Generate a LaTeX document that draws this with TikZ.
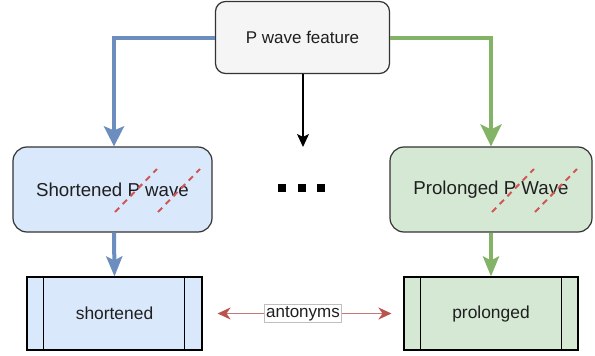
\documentclass[tikz,border=0pt]{standalone}
\usepackage{fontspec}
\setmainfont{Liberation Sans}
\usetikzlibrary{arrows.meta,calc}
\definecolor{blueFill}{HTML}{DAE8FC}
\definecolor{blueLine}{HTML}{6C8EBF}
\definecolor{greenFill}{HTML}{D5E8D4}
\definecolor{greenLine}{HTML}{82B366}
\definecolor{grayFill}{HTML}{F5F5F5}
\definecolor{nodeBorder}{HTML}{333333}
\definecolor{redLine}{HTML}{B85450}
\definecolor{strikeRed}{HTML}{D05555}
\begin{document}
\begin{tikzpicture}[x=1pt,y=-1pt,
  every node/.style={font=\fontsize{17}{20}\selectfont, text=black!88},
  bigtext/.style={font=\fontsize{18.7}{22}\selectfont},
  roundbox/.style={draw=nodeBorder, line width=1.2pt, inner sep=0pt},
  procbox/.style={draw=black, line width=1.1pt, inner sep=0pt, minimum height=73pt, font=\fontsize{17.4}{20}\selectfont},
  sideline/.style={draw=black, line width=1.1pt},
  thickblue/.style={draw=blueLine, line width=4pt, -{Stealth[width=20pt,length=20pt,inset=4pt]}},
  thickgreen/.style={draw=greenLine, line width=4pt, -{Stealth[width=21pt,length=22pt,inset=5pt]}},
  strike/.style={draw=strikeRed, line width=2pt, dash pattern=on 6pt off 5pt},
  antonym/.style={draw=redLine!80, line width=1.8pt, {Stealth[width=12pt,length=13pt,inset=4pt,color=redLine]}-{Stealth[width=12pt,length=13pt,inset=4pt,color=redLine]}},
  lbl/.style={fill=white, draw=gray!50, line width=0.5pt, inner sep=1.5pt}
]
\useasboundingbox (0,0) rectangle (595,356);

\node[roundbox, fill=grayFill, minimum width=174pt, minimum height=72pt, rounded corners=10pt] (top) at (302.5,37.5) {P wave feature};
\node[roundbox, bigtext, fill=blueFill, minimum width=199pt, minimum height=85pt, rounded corners=14pt] (left) at (112.5,189.5) {Shortened P wave};
\node[roundbox, bigtext, fill=greenFill, minimum width=202pt, minimum height=85pt, rounded corners=14pt] (right) at (491,189.5) {Prolonged P Wave};
\node[procbox, fill=blueFill, minimum width=175pt] (sh) at (114.5,313.5) {shortened};
\node[procbox, fill=greenFill, minimum width=174pt] (pr) at (491,313.5) {prolonged};

% process box side bars
\draw[sideline] ($(sh.north west)+(17,0)$) -- ($(sh.south west)+(17,0)$);
\draw[sideline] ($(sh.north east)+(-18,0)$) -- ($(sh.south east)+(-18,0)$);
\draw[sideline] ($(pr.north west)+(17,0)$) -- ($(pr.south west)+(17,0)$);
\draw[sideline] ($(pr.north east)+(-17,0)$) -- ($(pr.south east)+(-17,0)$);

% strike lines
\draw[strike] (115,212) -- (157,169);
\draw[strike] (158,212) -- (200,169);
\draw[strike] (492,212) -- (534,169);
\draw[strike] (535,212) -- (577,169);

% connectors
\draw[thickblue] (top.west) -| ($(left.north)+(1.5,0)$);
\draw[thickgreen] (top.east) -| (right.north);
\coordinate (dotsend) at (303,147);
\draw[black, line width=1.3pt, -{Stealth[width=12pt,length=13pt,inset=3pt]}] (top.south -| dotsend) -- (dotsend);
\draw[draw=blueLine, line width=4pt, -{Stealth[width=16pt,length=20pt,inset=4pt]}] ($(left.south)+(1.5,0)$) -- (sh.north);
\draw[draw=greenLine, line width=4pt, -{Stealth[width=16pt,length=20pt,inset=4pt]}] (right.south) -- (pr.north);
\draw[antonym, shorten <=15pt, shorten >=12pt] (sh) -- (pr) node[midway, lbl] {antonyms};

% dots
\fill[black] (278,184) rectangle (286,192);
\fill[black] (298,184) rectangle (306,192);
\fill[black] (317,184) rectangle (325,192);
\end{tikzpicture}
\end{document}
